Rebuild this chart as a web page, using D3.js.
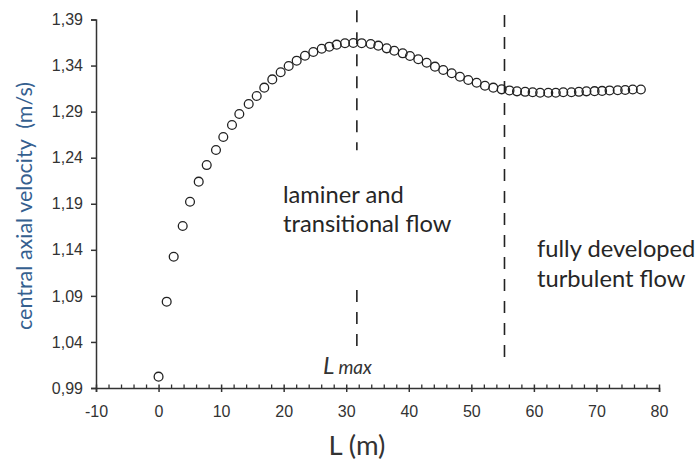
<!DOCTYPE html>
<html><head><meta charset="utf-8">
<script src="https://cdn.jsdelivr.net/npm/d3@7"></script>
<style>body{margin:0;background:#fff}svg{display:block}</style>
</head><body>
<svg id="c" width="699" height="461"></svg>
<script>
const lengths = [0,1.3,2.42,3.86,5.03,6.42,7.7,9.18,10.35,11.74,12.91,14.41,15.69,16.9,18.18,19.52,20.8,22.08,23.41,24.74,26.08,27.29,28.48,29.8,31.13,32.47,33.91,35.13,36.47,37.68,39.03,40.19,41.52,42.86,44.19,45.51,46.86,48.18,49.51,50.85,52.18,53.51,54.85,56.1,57.3,58.6,59.8,61.0,62.3,63.5,64.7,66.0,67.2,68.4,69.7,70.9,72.1,73.4,74.6,75.8,77.1];
const velocity = [1.0023,1.0837,1.1325,1.1659,1.1922,1.214,1.232,1.2483,1.2625,1.2755,1.2874,1.2983,1.307,1.316,1.325,1.3327,1.3395,1.3453,1.3507,1.3547,1.3583,1.3605,1.3627,1.3642,1.3645,1.3643,1.3634,1.3616,1.3587,1.3561,1.3533,1.3504,1.3468,1.3431,1.3388,1.3352,1.3316,1.3279,1.3243,1.3214,1.3181,1.316,1.3142,1.313,1.312,1.3115,1.311,1.3105,1.3105,1.3105,1.311,1.311,1.3115,1.312,1.3122,1.3125,1.313,1.3132,1.3135,1.314,1.314];
const xTicks = [-10,0,10,20,30,40,50,60,70,80];
const yTicks = [0.99,1.04,1.09,1.14,1.19,1.24,1.29,1.34,1.39];
const lmax = 31.7, turbStart = 55.3;

const svg = d3.select("#c");
const x = d3.scaleLinear().domain([-10,80]).range([96,659]);
const y = d3.scaleLinear().domain([0.99,1.39]).range([388,19.5]);
const axisColor = "#333";

// minor x ticks
const minor = d3.range(-10,81,2).filter(v => v % 10 !== 0);
const gMinor = svg.append("g").attr("transform","translate(0,388)")
  .call(d3.axisBottom(x).tickValues(minor).tickSize(-3.5).tickFormat(""));
gMinor.select(".domain").remove();
gMinor.selectAll("line").attr("stroke",axisColor).attr("stroke-width",1.3);

const gx = svg.append("g").attr("transform","translate(0,388)")
  .call(d3.axisBottom(x).tickValues(xTicks).tickSizeOuter(0).tickSize(4).tickPadding(14).tickFormat(d => String(d)));
gx.select(".domain").attr("stroke",axisColor).attr("stroke-width",1.5);
gx.selectAll(".tick line").attr("y1",-3.5).attr("y2",4).attr("stroke",axisColor).attr("stroke-width",1.5);
gx.selectAll("text").attr("font-family","Liberation Sans, Arial, sans-serif").attr("font-size",16).attr("fill","#333");

const gy = svg.append("g").attr("transform","translate(96,0)")
  .call(d3.axisLeft(y).tickValues(yTicks).tickSizeOuter(0).tickSize(5).tickPadding(8).tickFormat(d => d3.format(".2f")(d).replace(".",",")));
gy.select(".domain").attr("stroke",axisColor).attr("stroke-width",1.5);
gy.selectAll(".tick line").attr("stroke",axisColor).attr("stroke-width",1.5);
gy.selectAll("text").attr("font-family","Liberation Sans, Arial, sans-serif").attr("font-size",16).attr("fill","#333");

// dashed vertical lines
const dashSegs = [[lmax,1.400,1.248],[lmax,1.0964,1.0345],[turbStart,1.395,1.0204]];
svg.append("g").selectAll("line").data(dashSegs).join("line")
  .attr("x1",d=>x(d[0])).attr("x2",d=>x(d[0]))
  .attr("y1",d=>y(d[1])).attr("y2",d=>y(d[2]))
  .attr("stroke","#222").attr("stroke-width",1.6).attr("stroke-dasharray","12,10");

// points
svg.append("g").selectAll("circle").data(lengths.map((l,i)=>[l,velocity[i]])).join("circle")
  .attr("cx",d=>x(d[0])).attr("cy",d=>y(d[1])).attr("r",4.4)
  .attr("fill","none").attr("stroke","#222").attr("stroke-width",1.3);

// annotations
const font = "Lato, 'Open Sans', sans-serif";
const ann = svg.append("g").attr("font-family",font).attr("fill","#262626").attr("font-size",23.7);
ann.append("text").attr("x",283).attr("y",203).text("laminer and");
ann.append("text").attr("x",283).attr("y",231.5).text("transitional flow");
ann.append("text").attr("x",537).attr("y",256.5).text("fully developed");
ann.append("text").attr("x",537).attr("y",286.5).text("turbulent flow");

const lm = svg.append("text").attr("x",323).attr("y",374).attr("font-family",font).attr("font-style","italic").attr("fill","#333");
lm.append("tspan").attr("font-size",24).text("L");
lm.append("tspan").attr("font-size",19).attr("dx",4).text("max");

svg.append("text").attr("x",357).attr("y",455).attr("text-anchor","middle")
  .attr("font-family",font).attr("font-size",27.5).attr("fill","#333").text("L (m)");

svg.append("text").attr("transform","translate(32,206) rotate(-90)").attr("text-anchor","middle")
  .attr("font-family",font).attr("font-size",21.5).attr("fill","#35608f")
  .attr("xml:space","preserve").style("white-space","pre").text("central axial velocity  (m/s)");
</script>
</body></html>
